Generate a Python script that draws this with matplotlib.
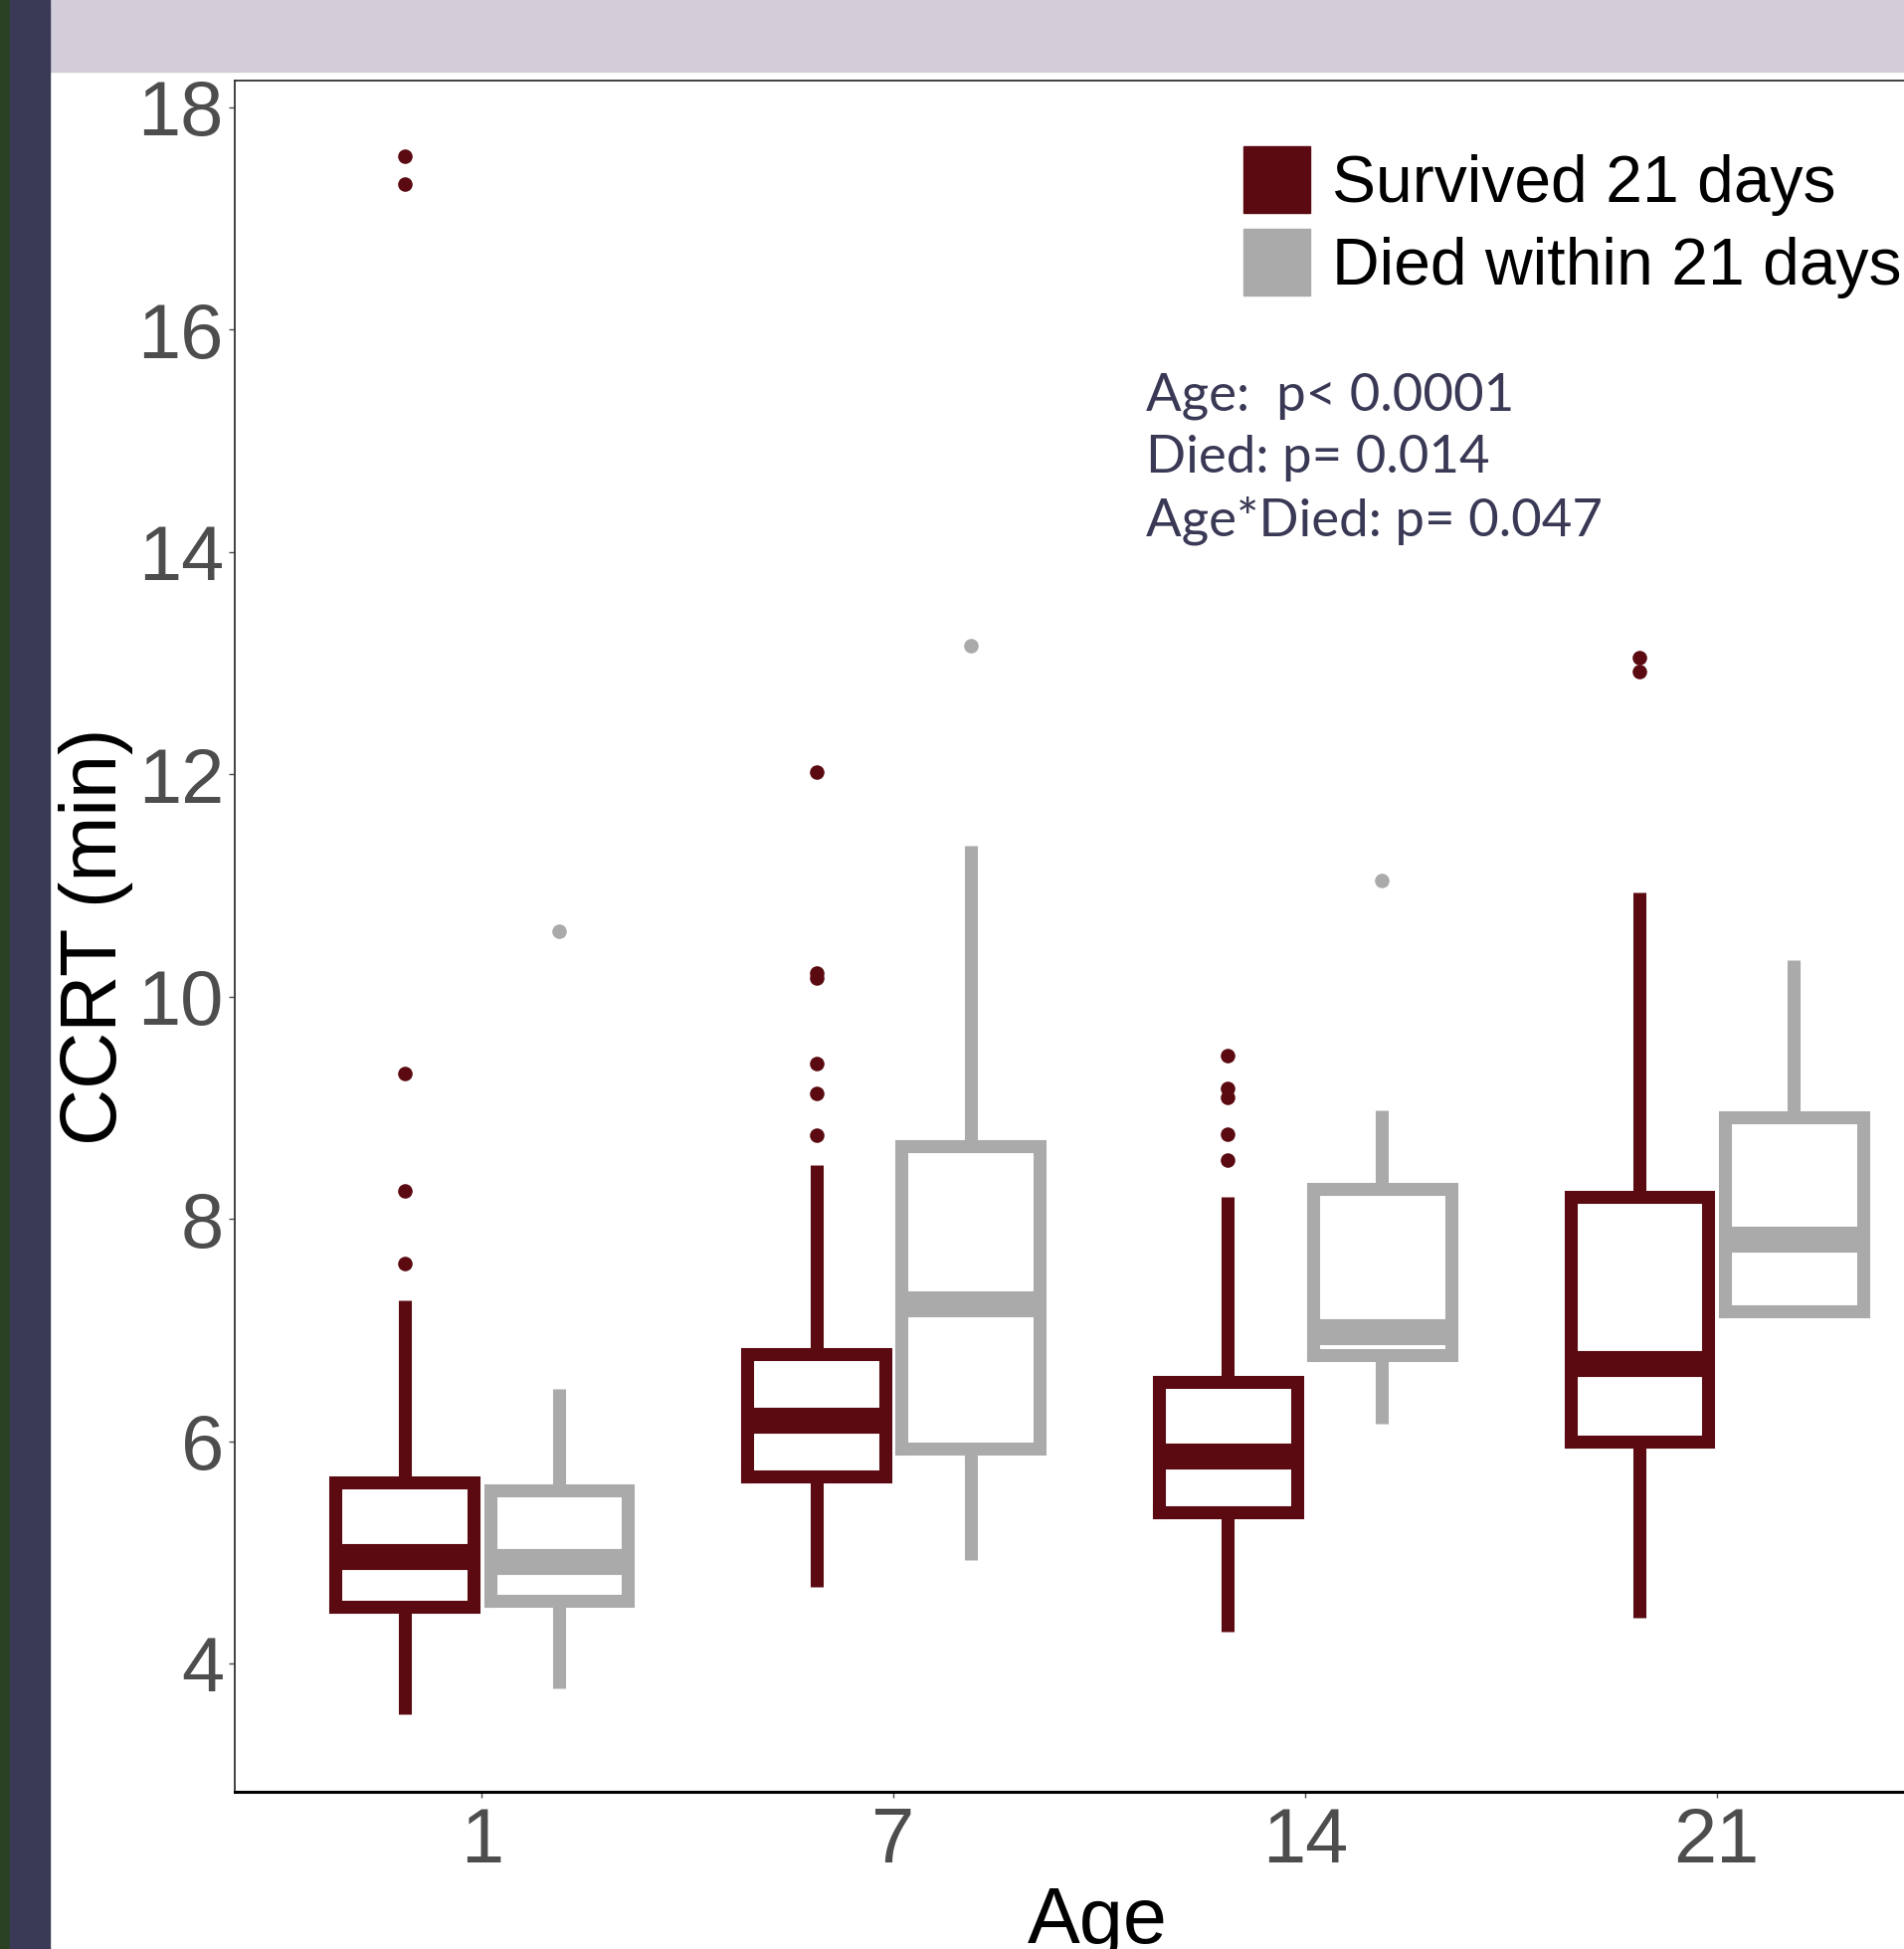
import matplotlib
matplotlib.use("Agg")
import matplotlib.pyplot as plt
from matplotlib.patches import Rectangle

plt.rcParams['font.family'] = ['Liberation Sans', 'DejaVu Sans']

ages = ['1', '7', '14', '21']
groups = ['Survived 21 days', 'Died within 21 days']
colors = ['#5a0a10', '#aaaaaa']

# box statistics, one list per group (ages 1, 7, 14, 21)
surv_whislo = [3.54, 4.69, 4.29, 4.41]
surv_q1 = [4.51, 5.68, 5.36, 6.00]
surv_med = [4.96, 6.18, 5.86, 6.69]
surv_q3 = [5.63, 6.78, 6.53, 8.20]
surv_whishi = [7.27, 8.48, 8.20, 10.94]
surv_fliers = [[7.60, 8.25, 9.31, 17.31, 17.56],
               [8.75, 9.13, 9.40, 10.17, 10.21, 12.02],
               [8.53, 8.76, 9.09, 9.17, 9.47],
               [12.92, 13.05]]

died_whislo = [3.78, 4.93, 6.16, 7.17]
died_q1 = [4.56, 5.93, 6.77, 7.17]
died_med = [4.91, 7.23, 6.98, 7.81]
died_q3 = [5.56, 8.65, 8.27, 8.91]
died_whishi = [6.47, 11.36, 8.98, 10.33]
died_fliers = [[10.59], [13.16], [11.04], []]

yticks = [4, 6, 8, 10, 12, 14, 16, 18]
pvals = ["Age:  p< 0.0001", "Died: p= 0.014", "Age*Died: p= 0.047"]

W, H = 1915, 1959
fig = plt.figure(figsize=(W / 100, H / 100), dpi=100)

# screenshot framing: top band and left strips
fig.patches.append(Rectangle((50 / W, 1 - 72 / H), 1, 72 / H, transform=fig.transFigure,
                             color='#d3cdd9', zorder=0))
fig.patches.append(Rectangle((0, 0), 10 / W, 1, transform=fig.transFigure,
                             color='#2b4124', zorder=0))
fig.patches.append(Rectangle((10 / W, 0), 40 / W, 1, transform=fig.transFigure,
                             color='#3a3a56', zorder=0))

ax_left, ax_top, ax_bot, ax_right = 236, 81, 1801, 1974
ax = fig.add_axes([ax_left / W, 1 - ax_bot / H, (ax_right - ax_left) / W, (ax_bot - ax_top) / H])

def make_stats(lo, q1, med, q3, hi, fl):
    return [dict(whislo=lo[i], q1=q1[i], med=med[i], q3=q3[i], whishi=hi[i], fliers=fl[i])
            for i in range(len(ages))]

all_stats = [make_stats(surv_whislo, surv_q1, surv_med, surv_q3, surv_whishi, surv_fliers),
             make_stats(died_whislo, died_q1, died_med, died_q3, died_whishi, died_fliers)]

base = list(range(1, len(ages) + 1))
offsets = [-0.1875, 0.1875]
lw = 9.4
for stats, off, c in zip(all_stats, offsets, colors):
    pos = [b + off for b in base]
    ax.bxp(stats, positions=pos, widths=0.335, showcaps=False,
           boxprops=dict(color=c, linewidth=lw, solid_joinstyle='miter'),
           whiskerprops=dict(color=c, linewidth=lw, solid_capstyle='butt'),
           medianprops=dict(color=c, linewidth=lw * 2, solid_capstyle='butt'),
           flierprops=dict(marker='o', markerfacecolor=c, markeredgecolor='none', markersize=10.5))

ax.set_xlim(0.4, 4.6)
ax.set_ylim(2.845, 18.24)
ax.set_xticks(base)
ax.set_xticklabels(ages)
ax.set_yticks(yticks)
ax.tick_params(axis='both', labelsize=56, colors='#4d4d4d', length=4, width=1)
ax.tick_params(axis='x', pad=6)
ax.tick_params(axis='y', pad=4)
for s in ['left', 'top', 'right']:
    ax.spines[s].set_color('#333333')
    ax.spines[s].set_linewidth(1.3)
ax.spines['bottom'].set_color('black')
ax.spines['bottom'].set_linewidth(2.2)

fig.text(97 / W, 1 - 941 / H, 'CCRT (min)', rotation=90, ha='center', va='center',
         fontsize=57, color='black')
fig.text(1103 / W, 1 - 1953 / H, 'Age', ha='center', va='baseline', fontsize=57, color='black')

# legend: square keys with labels
for i, (g, c) in enumerate(zip(groups, colors)):
    top = 147 + i * 83
    fig.patches.append(Rectangle((1250 / W, 1 - (top + 67) / H), 67 / W, 67 / H,
                                 transform=fig.transFigure, color=c, zorder=3))
    fig.text(1339 / W, 1 - (top + 32) / H, g, ha='left', va='center_baseline',
             fontsize=47.5, color='black')

# p-value annotation, one line each
for i, line in enumerate(pvals):
    fig.text(1152 / W, 1 - (412 + i * 63) / H, line, ha='left', va='baseline', fontsize=38,
             color='#393956', family=['Lato', 'DejaVu Sans'])

fig.savefig('out.png', dpi=100)
